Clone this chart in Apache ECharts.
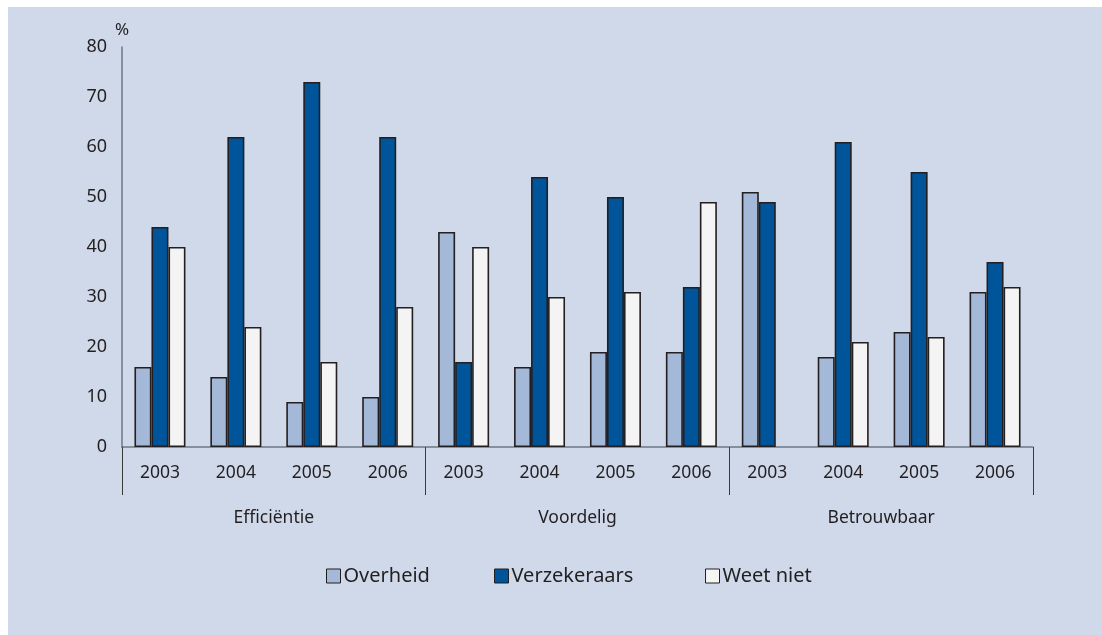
<!DOCTYPE html>
<html>
<head>
<meta charset="utf-8">
<script src="https://cdn.jsdelivr.net/npm/echarts@6/dist/echarts.min.js"></script>
<style>
  html, body { margin: 0; padding: 0; background: #ffffff; }
  #panel { position: absolute; left: 8px; top: 7px; width: 1094px; height: 628px; background: #cfd9ea; }
  #chart { position: absolute; left: 0; top: 0; width: 1102px; height: 635px; }
</style>
</head>
<body>
<div id="panel"></div>
<div id="chart"></div>
<script>
// Year labels within each theme, and the three themes
const years = ['2003', '2004', '2005', '2006'];
const themes = ['Efficiëntie', 'Voordelig', 'Betrouwbaar'];
const seriesNames = ['Overheid', 'Verzekeraars', 'Weet niet'];

// Percentages per theme/year (Efficiëntie 2003..2006, Voordelig 2003..2006, Betrouwbaar 2003..2006)
const overheid     = [16, 14, 9, 10,  43, 16, 19, 19,  51, 18, 23, 31];
const verzekeraars = [44, 62, 73, 62, 17, 54, 50, 32,  49, 61, 55, 37];
const weetNiet     = [40, 24, 17, 28, 40, 30, 31, 49,  null, 21, 22, 32];

const yTicks = { min: 0, max: 80, interval: 10 };

const categories = [];
themes.forEach(() => years.forEach(y => categories.push(y)));

const colors = ['#a4b8d8', '#00559a', '#f4f4f4'];
const textColor = '#231f20';
const font = '"Noto Sans", "Open Sans", sans-serif';

const chart = echarts.init(document.getElementById('chart'), null, { renderer: 'canvas' });

const barStyle = (c) => ({ color: c, borderColor: '#231f20', borderWidth: 1.6 });

// one legend block per series so each entry sits at its own spot
const legendLeft = [326, 494, 705];
const legends = seriesNames.map((n, i) => ({
  left: legendLeft[i], top: 566,
  padding: 0,
  itemWidth: 14, itemHeight: 14,
  icon: 'rect',
  data: [n],
  itemStyle: { borderColor: '#231f20', borderWidth: 1 },
  textStyle: { fontSize: 20, color: textColor, fontFamily: font, padding: [0, 0, 0, -2] }
}));

chart.setOption({
  backgroundColor: 'transparent',
  animation: false,
  textStyle: { fontFamily: font, color: textColor },
  grid: { left: 122, right: 69, top: 47, bottom: 188, containLabel: false },
  legend: legends,
  xAxis: [
    {
      type: 'category',
      data: categories,
      position: 'bottom',
      axisLine: { show: true, lineStyle: { color: '#6d7785', width: 1.5 } },
      axisTick: { show: false },
      axisLabel: { fontSize: 17.5, color: textColor, margin: 17, interval: 0, fontFamily: font }
    },
    {
      type: 'category',
      data: themes,
      position: 'bottom',
      axisLine: { show: false },
      axisTick: { show: true, length: 48, alignWithLabel: false, lineStyle: { color: '#3a3a3a', width: 1 } },
      axisLabel: { fontSize: 17.5, color: textColor, margin: 62, interval: 0, fontFamily: font },
      splitLine: { show: false }
    }
  ],
  yAxis: {
    type: 'value',
    min: yTicks.min, max: yTicks.max, interval: yTicks.interval,
    name: '%',
    nameLocation: 'end',
    nameGap: 8,
    nameTextStyle: { fontSize: 17, color: textColor, fontFamily: font, align: 'center' },
    axisLine: { show: true, lineStyle: { color: '#6d7785', width: 1.5 } },
    axisTick: { show: false },
    axisLabel: { fontSize: 18, color: textColor, margin: 15, fontFamily: font },
    splitLine: { show: false }
  },
  series: [
    { name: seriesNames[0], type: 'bar', data: overheid, barWidth: 17, barGap: '0%', itemStyle: barStyle(colors[0]) },
    { name: seriesNames[1], type: 'bar', data: verzekeraars, barWidth: 17, barGap: '0%', itemStyle: barStyle(colors[1]) },
    { name: seriesNames[2], type: 'bar', data: weetNiet, barWidth: 17, barGap: '0%', itemStyle: barStyle(colors[2]) }
  ]
});
</script>
</body>
</html>
